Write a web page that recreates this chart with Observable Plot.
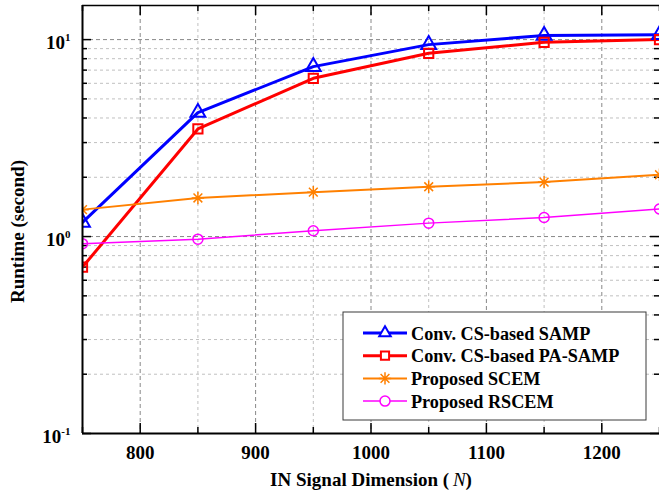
<!DOCTYPE html>
<html><head><meta charset="utf-8">
<script src="https://cdn.jsdelivr.net/npm/d3@7"></script>
<script src="https://cdn.jsdelivr.net/npm/@observablehq/plot@0.6"></script>
<style>html,body{margin:0;padding:0;background:#fff;overflow:hidden;}</style>
</head><body>
<div id="chart"></div>
<script>
// ---- data ----
const N = [750, 850, 950, 1050, 1150, 1250];
const samp   = [1.18, 4.26, 7.29, 9.43, 10.5, 10.6];
const paSamp = [0.70, 3.52, 6.36, 8.52, 9.69, 10.0];
const scem   = [1.37, 1.57, 1.68, 1.79, 1.89, 2.06];
const rscem  = [0.92, 0.97, 1.07, 1.17, 1.25, 1.38];
const seriesNames = ["Conv. CS-based SAMP", "Conv. CS-based PA-SAMP", "Proposed SCEM", "Proposed RSCEM"];
const xTicks = [800, 900, 1000, 1100, 1200];
const xMinorTicks = [750, 850, 950, 1050, 1150, 1250];
const yTicks = [0.1, 1, 10];
const yMinorTicks = [0.2, 0.3, 0.4, 0.5, 0.6, 0.7, 0.8, 0.9, 2, 3, 4, 5, 6, 7, 8, 9];
const xDomain = [750, 1250];
const yDomain = [0.1, 14.9];
const xLabel = "IN Signal Dimension (\u2009N)";
const yLabel = "Runtime (second)";

// ---- layout / style ----
const W = 659, H = 499, mL = 82, mT = 5, mB = 66, mR = 0;
const fw = W - mL - mR, fh = H - mT - mB;
const FONT = "'Liberation Serif', 'Times New Roman', serif";

const asterisk8 = {
  draw(ctx, size) {
    const r = Math.sqrt(size / Math.PI);
    const d = r * Math.SQRT1_2;
    ctx.moveTo(-r, 0); ctx.lineTo(r, 0);
    ctx.moveTo(0, -r); ctx.lineTo(0, r);
    ctx.moveTo(-d, -d); ctx.lineTo(d, d);
    ctx.moveTo(-d, d); ctx.lineTo(d, -d);
  }
};

const styles = [
  {color: "#0000ff", width: 3,   symbol: "triangle", d3sym: d3.symbolTriangle2, r: 5.5, mw: 2},
  {color: "#ff0000", width: 3,   symbol: "square",   d3sym: d3.symbolSquare2,   r: 5.2, mw: 2},
  {color: "#ff8000", width: 2,   symbol: asterisk8,  d3sym: asterisk8,          r: 6.2, mw: 1.5},
  {color: "#ff00ff", width: 1.5, symbol: "circle",   d3sym: d3.symbolCircle,    r: 5,   mw: 1.5}
];
const seriesValues = [samp, paSamp, scem, rscem];
const series = seriesValues.map((vals, k) => ({
  name: seriesNames[k],
  data: N.map((n, i) => ({n, v: vals[i]})),
  ...styles[k]
}));

const gridMinor = {stroke: "#c0c0c0", strokeDasharray: "3,3", strokeWidth: 1};
const gridMajor = {stroke: "#888888", strokeDasharray: "4,3", strokeWidth: 1};
const tickStyle = {stroke: "black", strokeWidth: 1.5};

const svg = Plot.plot({
  width: W, height: H,
  marginLeft: mL, marginTop: mT, marginBottom: mB, marginRight: mR,
  style: {fontFamily: FONT, fontWeight: "bold", fontSize: "19px", color: "black", background: "white"},
  x: {domain: xDomain},
  y: {type: "log", domain: yDomain},
  marks: [
    Plot.ruleX(xMinorTicks, gridMinor),
    Plot.ruleX(xTicks, gridMajor),
    Plot.ruleY(yMinorTicks, gridMinor),
    Plot.ruleY(yTicks, gridMajor),
    // inward ticks
    Plot.ruleX(xTicks, {...tickStyle, insetTop: fh - 10}),
    Plot.ruleX(xTicks, {...tickStyle, insetBottom: fh - 10}),
    Plot.ruleX(xMinorTicks, {...tickStyle, insetTop: fh - 6}),
    Plot.ruleX(xMinorTicks, {...tickStyle, insetBottom: fh - 6}),
    Plot.ruleY(yTicks, {...tickStyle, insetRight: fw - 9}),
    Plot.ruleY(yTicks, {...tickStyle, insetLeft: fw - 9}),
    Plot.ruleY(yMinorTicks, {...tickStyle, insetRight: fw - 5}),
    Plot.ruleY(yMinorTicks, {...tickStyle, insetLeft: fw - 5}),
    // data
    ...series.map(s => Plot.line(s.data, {x: "n", y: "v", stroke: s.color, strokeWidth: s.width, clip: true})),
    ...series.map(s => Plot.dot(s.data, {x: "n", y: "v", symbol: s.symbol, r: s.r, stroke: s.color, fill: "none", strokeWidth: s.mw, clip: true})),
    // frame lines
    Plot.ruleX([xDomain[0]], {stroke: "black", strokeWidth: 2}),
    Plot.ruleY([yDomain[0]], {stroke: "black", strokeWidth: 2}),
    Plot.ruleY([yDomain[1]], {stroke: "black", strokeWidth: 1.5}),
    // axes
    Plot.axisX(xTicks, {tickSize: 0, tickPadding: 12, label: null, fontSize: 19, tickFormat: d => String(d)}),
    Plot.axisY(yTicks, {tickSize: 0, tickPadding: 12, label: null, dy: 3, fontSize: 19,
      tickFormat: d => "10^" + Math.round(Math.log10(d))}),
    Plot.text([xLabel], {frameAnchor: "bottom", dy: 52, fontSize: 19, fontWeight: "bold", textAnchor: "middle"}),
    Plot.text([yLabel], {frameAnchor: "left", dx: -65, dy: 12, rotate: -90, fontSize: 19, fontWeight: "bold", textAnchor: "middle"})
  ]
});

const root = d3.select(svg);
// superscript exponents on y tick labels
root.selectAll('g[aria-label="y-axis tick label"] text').each(function () {
  const parts = this.textContent.split("^");
  const sel = d3.select(this);
  sel.text(parts[0]);
  sel.append("tspan").attr("dy", -7.5).attr("font-size", 11).text(parts[1]);
});
// italic N in x label
root.selectAll("text").filter(function () { return this.textContent === xLabel; }).each(function () {
  const sel = d3.select(this);
  sel.text("IN Signal Dimension (\u2009");
  sel.append("tspan").attr("font-style", "italic").attr("font-weight", "normal").text("N");
  sel.append("tspan").text(")");
});

// legend
const lg = root.append("g").attr("transform", "translate(343,312)");
lg.append("rect").attr("width", 303).attr("height", 108)
  .attr("fill", "white").attr("stroke", "#3a3a3a").attr("stroke-width", 1);
series.forEach((s, k) => {
  const cy = 21 + k * 22.7;
  const row = lg.append("g").attr("transform", `translate(0,${cy})`);
  row.append("line").attr("x1", 20).attr("x2", 64).attr("y1", 0).attr("y2", 0)
    .attr("stroke", s.color).attr("stroke-width", s.width);
  row.append("path").attr("transform", "translate(42,0)")
    .attr("d", d3.symbol(s.d3sym, s.r * s.r * Math.PI)())
    .attr("fill", "white").attr("stroke", s.color).attr("stroke-width", s.mw);
  row.append("text").attr("x", 68).attr("y", 6.5).attr("text-anchor", "start")
    .attr("font-size", 18.2).attr("font-weight", "bold").attr("fill", "black").text(s.name);
});

document.getElementById("chart").appendChild(svg);
</script>
</body></html>
